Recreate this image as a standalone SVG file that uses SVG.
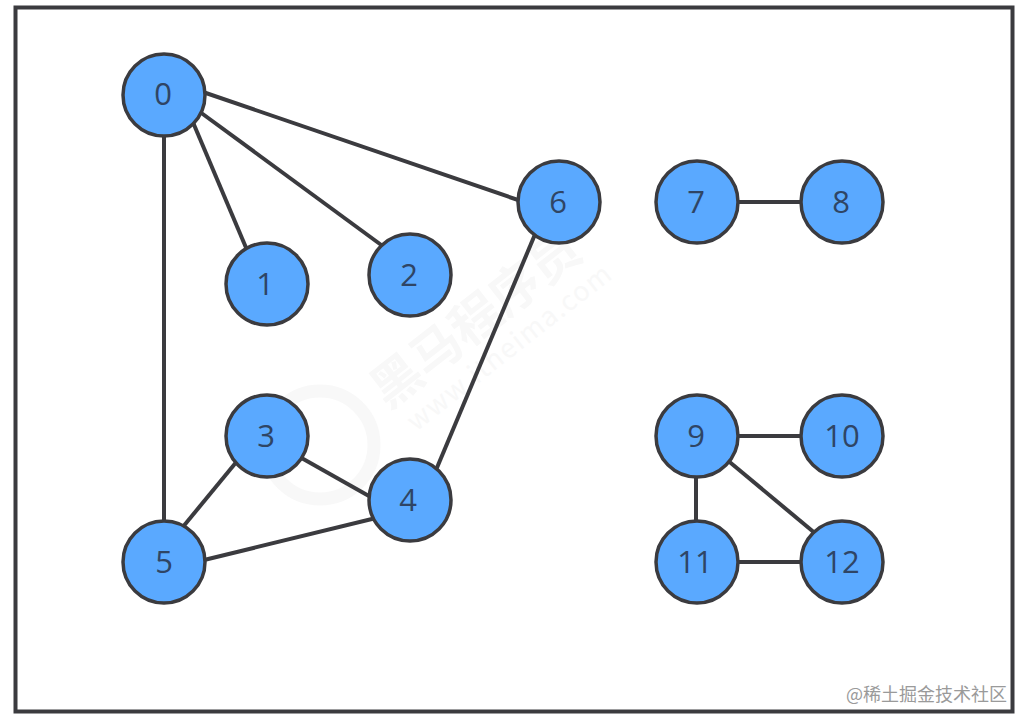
<svg xmlns="http://www.w3.org/2000/svg" width="1028" height="726" viewBox="0 0 1028 726">
<style>
.n circle{fill:#5aa9ff;stroke:#3b3b3f;stroke-width:3.500}
.n text{font-family:"Open Sans",sans-serif;font-size:31px;fill:#2f4565;text-anchor:middle}
#edges line{stroke:#3b3b3f;stroke-width:4}
.wm{fill:#f8f8f8;font-family:"Noto Sans CJK SC",sans-serif}
</style>
<rect width="1028" height="726" fill="#fff"/>
<rect x="15.500" y="7.500" width="997" height="704" fill="#fff" stroke="#3b3b3f" stroke-width="4"/>
<g id="watermark">
<circle cx="320" cy="445" r="54" fill="none" stroke="#f8f8f8" stroke-width="13"/>
<text class="wm" transform="translate(388 410) rotate(-38)" font-size="50" font-weight="700">黑马程序员</text>
<text class="wm" transform="translate(416 432) rotate(-38)" font-size="27" letter-spacing="1.500">www.itheima.com</text>
</g>
<g id="edges">
<line x1="164" y1="130" x2="164" y2="530"/>
<line x1="192" y1="120" x2="247" y2="250"/>
<line x1="200" y1="112" x2="384" y2="247"/>
<line x1="200" y1="91" x2="524" y2="202"/>
<line x1="536" y1="232" x2="436" y2="470"/>
<line x1="298" y1="456" x2="376" y2="500"/>
<line x1="238" y1="460" x2="182" y2="528"/>
<line x1="200" y1="561" x2="376" y2="518"/>
<line x1="730" y1="202" x2="810" y2="202"/>
<line x1="730" y1="436" x2="810" y2="436"/>
<line x1="696" y1="470" x2="696" y2="530"/>
<line x1="726" y1="459" x2="816" y2="534"/>
<line x1="730" y1="562" x2="810" y2="562"/>
</g>
<g id="node0" class="n"><circle cx="164" cy="95" r="41"/><text x="163" y="105">0</text></g>
<g id="node1" class="n"><circle cx="267" cy="284" r="41"/><text x="265" y="295">1</text></g>
<g id="node2" class="n"><circle cx="410" cy="275" r="41"/><text x="409" y="286">2</text></g>
<g id="node3" class="n"><circle cx="267" cy="436" r="41"/><text x="266" y="447">3</text></g>
<g id="node4" class="n"><circle cx="410" cy="500" r="41"/><text x="408" y="511">4</text></g>
<g id="node5" class="n"><circle cx="164" cy="562" r="41"/><text x="164" y="573">5</text></g>
<g id="node6" class="n"><circle cx="559" cy="202" r="41"/><text x="558" y="213">6</text></g>
<g id="node7" class="n"><circle cx="697" cy="202" r="41"/><text x="696" y="213">7</text></g>
<g id="node8" class="n"><circle cx="842" cy="202" r="41"/><text x="841" y="213">8</text></g>
<g id="node9" class="n"><circle cx="697" cy="436" r="41"/><text x="696" y="447">9</text></g>
<g id="node10" class="n"><circle cx="842" cy="436" r="41"/><text x="842" y="447">10</text></g>
<g id="node11" class="n"><circle cx="697" cy="562" r="41"/><text x="695" y="573">11</text></g>
<g id="node12" class="n"><circle cx="842" cy="562" r="41"/><text x="842" y="573">12</text></g>
<text x="1007" y="701" text-anchor="end" font-family="'Noto Sans CJK SC',sans-serif" font-size="18" fill="#9a9a9a">@稀土掘金技术社区</text>
</svg>
